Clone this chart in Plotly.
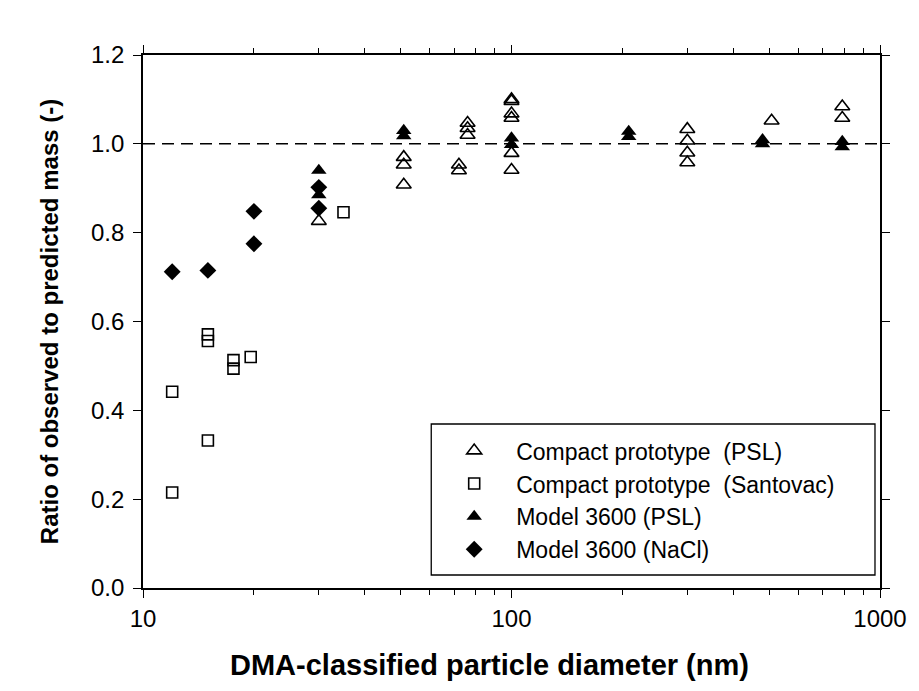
import plotly.graph_objects as go

# Compact prototype, PSL calibration particles (open triangles)
psl_compact_d = [30, 51, 51, 51, 72, 72, 76, 76, 76,
                 100, 100, 100, 100, 100, 100,
                 300, 300, 300, 300, 508, 790, 790]
psl_compact_ratio = [0.826, 0.970, 0.953, 0.908, 0.953, 0.940, 1.047, 1.035, 1.020,
                     1.100, 1.096, 1.068, 1.058, 0.979, 0.941,
                     1.033, 1.007, 0.980, 0.958, 1.052, 1.084, 1.058]

# Compact prototype, Santovac oil droplets (open squares)
santovac_d = [12, 12, 15, 15, 15, 17.6, 17.6, 19.6, 35]
santovac_ratio = [0.442, 0.215, 0.571, 0.556, 0.332, 0.513, 0.494, 0.520, 0.846]

# Model 3600, PSL (filled triangles)
psl_3600_d = [30, 30, 51, 51, 100, 100, 208, 208, 480, 480, 790, 790]
psl_3600_ratio = [0.940, 0.885, 1.030, 1.018, 1.013, 0.998, 1.028, 1.016,
                  1.009, 1.000, 1.005, 0.993]

# Model 3600, NaCl (filled diamonds)
nacl_d = [12, 15, 20, 20, 30, 30]
nacl_ratio = [0.712, 0.715, 0.848, 0.775, 0.902, 0.855]

y_ticks = [0.0, 0.2, 0.4, 0.6, 0.8, 1.0, 1.2]
x_ticks = [10, 100, 1000]

FONT = "Liberation Sans, Arial, sans-serif"
LINE_W = 1.6

fig = go.Figure()

fig.add_trace(go.Scatter(
    x=psl_compact_d, y=psl_compact_ratio, mode="markers",
    name="Compact prototype\u00a0\u00a0(PSL)",
    marker=dict(symbol="triangle-up-open", size=13, color="black",
                line=dict(width=LINE_W, color="black")),
))
fig.add_trace(go.Scatter(
    x=santovac_d, y=santovac_ratio, mode="markers",
    name="Compact prototype\u00a0\u00a0(Santovac)",
    marker=dict(symbol="square-open", size=11, color="black",
                line=dict(width=LINE_W, color="black")),
))
fig.add_trace(go.Scatter(
    x=psl_3600_d, y=psl_3600_ratio, mode="markers",
    name="Model 3600 (PSL)",
    marker=dict(symbol="triangle-up", size=13.5, color="black",
                line=dict(width=0)),
))
fig.add_trace(go.Scatter(
    x=nacl_d, y=nacl_ratio, mode="markers",
    name="Model 3600 (NaCl)",
    marker=dict(symbol="diamond", size=13, color="black",
                line=dict(width=0)),
))

# Reference line at ratio = 1
fig.add_shape(type="line", xref="paper", yref="y", x0=0, x1=1, y0=1.0, y1=1.0,
              line=dict(color="black", width=1.5, dash="12px,7px"), layer="below")

# Legend frame
fig.add_shape(type="rect", xref="paper", yref="paper",
              x0=0.3911, x1=0.9932, y0=0.0244, y1=0.3077,
              line=dict(color="black", width=1.3), fillcolor="rgba(0,0,0,0)")

axis_common = dict(
    showline=True, linecolor="black", linewidth=LINE_W,
    mirror="allticks", ticks="outside", tickcolor="black",
    tickwidth=1.3, ticklen=8, showgrid=False, zeroline=False,
    tickfont=dict(family=FONT, size=24, color="black"),
)

fig.update_xaxes(
    type="log", range=[1, 3], tickvals=x_ticks, ticktext=[str(v) for v in x_ticks],
    minor=dict(ticks="outside", ticklen=5, tickwidth=1.2, tickcolor="black",
               showgrid=False, dtick="D1"),
    **axis_common,
)
fig.update_yaxes(
    range=[0, 1.2], tickvals=y_ticks, ticktext=[f"{v:.1f}" for v in y_ticks],
    ticklabelstandoff=4,
    title=dict(text="<b>Ratio of observed to predicted mass (-)</b>",
               font=dict(family=FONT, size=24, color="black"), standoff=26),
    **axis_common,
)

# X-axis title, placed as an annotation below the tick labels
fig.add_annotation(
    text="<b>DMA-classified particle diameter (nm)</b>",
    xref="paper", yref="paper", x=0.4696, y=-0.1445,
    xanchor="center", yanchor="middle", showarrow=False,
    font=dict(family=FONT, size=29, color="black"),
)

fig.update_layout(
    width=919, height=691,
    margin=dict(l=143, r=37, t=55, b=103),
    paper_bgcolor="white", plot_bgcolor="white",
    font=dict(family=FONT, color="black"),
    showlegend=True,
    legend=dict(
        x=0.3924, y=0.298, xanchor="left", yanchor="top",
        bgcolor="rgba(0,0,0,0)", borderwidth=0,
        font=dict(family=FONT, size=23, color="black"),
        itemwidth=74, tracegroupgap=0,
    ),
)

fig.write_html("out.html")
